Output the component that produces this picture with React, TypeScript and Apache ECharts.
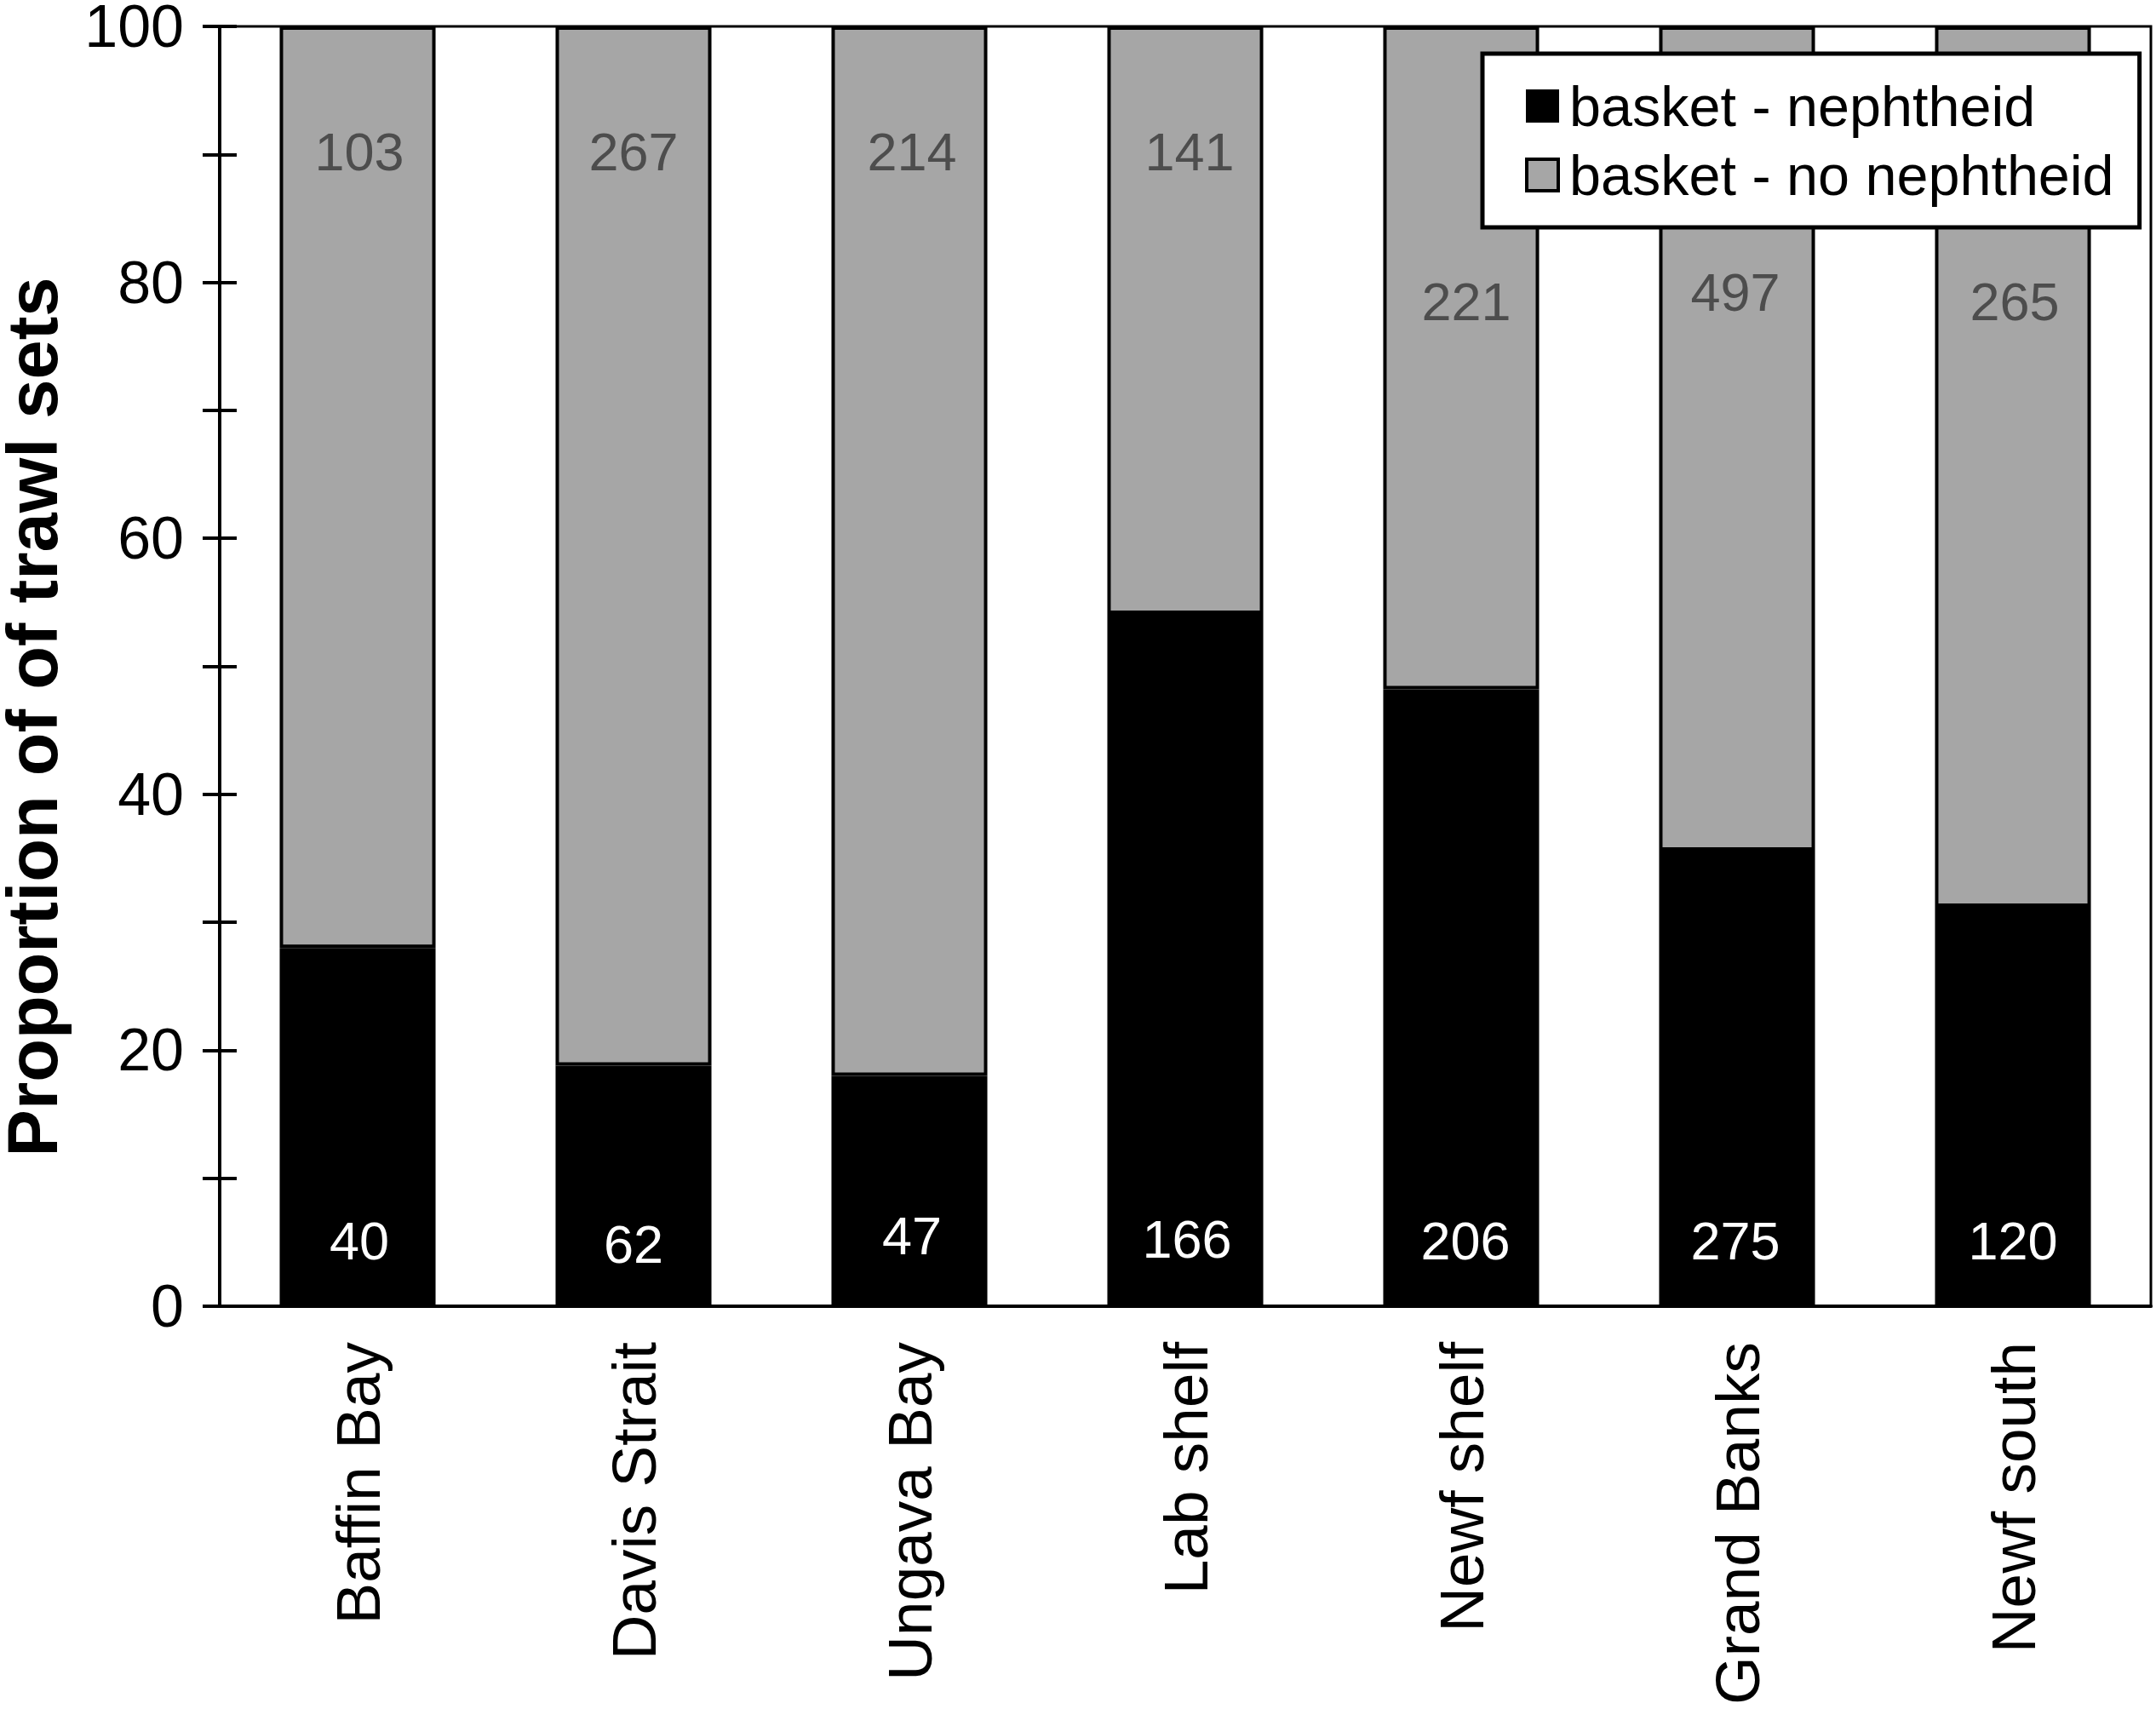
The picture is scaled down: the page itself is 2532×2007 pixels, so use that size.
import React, { useEffect, useRef } from "react";
import * as echarts from "echarts";

const regions = ["Baffin Bay", "Davis Strait", "Ungava Bay", "Lab shelf", "Newf shelf", "Grand Banks", "Newf south"];

// percent of trawl sets
const nephtheid = [28, 18.8, 18, 54.1, 48.2, 35.6, 31.2];
const noNephtheid = [72, 81.2, 82, 45.9, 51.8, 64.4, 68.8];

// counts printed on the bars
const nephtheidCounts = [40, 62, 47, 166, 206, 275, 120];
const noNephtheidCounts = [103, 267, 214, 141, 221, 497, 265];

// the count labels were placed by hand in the original
const blackLabelNudge = [[2, 0], [0, 4], [3, -6], [2, -2], [5, 0], [-2, 0], [0, 0]];
const greyLabelNudge = [[2, 0], [0, 0], [3, 0], [5, 0], [6, 176], [-2, 165], [2, 176]];

const FONT = "Liberation Sans";

const App = () => {
  const chartRef = useRef<HTMLDivElement>(null);

  useEffect(() => {
    if (!chartRef.current) return;
    const chart = echarts.init(chartRef.current, undefined, { renderer: "svg" });

    const valueAxis = { type: "value", min: 0, max: 100, interval: 10 };

    chart.setOption({
      animation: false,
      backgroundColor: "#fff",
      textStyle: { fontFamily: FONT },
      grid: {
        left: 258,
        right: 6,
        top: 31,
        bottom: 473,
        outerBoundsMode: "none",
        show: true,
        borderColor: "#000",
        borderWidth: 3,
        backgroundColor: "transparent",
      },
      legend: {
        data: [
          { name: "basket - nephtheid" },
          { name: "basket - no nephtheid", itemStyle: { borderColor: "#000", borderWidth: 4 } },
        ],
        orient: "vertical",
        left: 1741,
        top: 63,
        padding: [24, 30, 24, 50],
        itemWidth: 37,
        itemHeight: 37,
        itemGap: 6,
        backgroundColor: "#fff",
        borderColor: "#000",
        borderWidth: 5,
        borderRadius: 0,
        icon: "rect",
        textStyle: { fontFamily: FONT, fontSize: 66.5, color: "#000", lineHeight: 75, padding: [0, 0, 0, 8] },
      },
      xAxis: {
        type: "category",
        data: regions,
        axisTick: { show: false },
        axisLine: { lineStyle: { color: "#000", width: 4 } },
        axisLabel: { rotate: 90, margin: 42, fontFamily: FONT, fontSize: 73, color: "#000", interval: 0 },
      },
      yAxis: [
        {
          ...valueAxis,
          splitLine: { show: false },
          axisLine: { show: true, lineStyle: { color: "#000", width: 4 } },
          axisTick: { show: true, length: 20, lineStyle: { color: "#000", width: 4 } },
          axisLabel: {
            margin: 42,
            fontFamily: FONT,
            fontSize: 70,
            lineHeight: 50,
            color: "#000",
            formatter: (v: number) => (v % 20 === 0 ? String(v) : ""),
          },
        },
        {
          ...valueAxis,
          position: "left",
          splitLine: { show: false },
          axisLine: { show: false },
          axisLabel: { show: false },
          axisTick: { show: true, inside: true, length: 20, lineStyle: { color: "#000", width: 4 } },
        },
      ],
      series: [
        {
          name: "basket - nephtheid",
          type: "bar",
          stack: "sets",
          barWidth: "56.5%",
          itemStyle: { color: "#000", borderColor: "#000", borderWidth: 4 },
          data: nephtheid.map((value, i) => ({
            value,
            label: { offset: blackLabelNudge[i] },
          })),
          label: {
            show: true,
            position: "insideBottom",
            distance: 46,
            fontFamily: FONT,
            fontSize: 63,
            color: "#fff",
            formatter: (p: any) => String(nephtheidCounts[p.dataIndex]),
          },
        },
        {
          name: "basket - no nephtheid",
          type: "bar",
          stack: "sets",
          barWidth: "56.5%",
          itemStyle: { color: "#a6a6a6", borderColor: "#000", borderWidth: 4 },
          data: noNephtheid.map((value, i) => ({
            value,
            label: { offset: greyLabelNudge[i] },
          })),
          label: {
            show: true,
            position: "insideTop",
            distance: 115,
            fontFamily: FONT,
            fontSize: 63,
            color: "#4d4d4d",
            formatter: (p: any) => String(noNephtheidCounts[p.dataIndex]),
          },
        },
      ],
      graphic: [
        {
          type: "text",
          x: 38,
          y: 842,
          rotation: Math.PI / 2,
          style: {
            text: "Proportion of of trawl sets",
            fontFamily: FONT,
            fontSize: 83,
            lineHeight: 70,
            fontWeight: "bold",
            fill: "#000",
            align: "center",
            verticalAlign: "middle",
          },
        },
      ],
    });

    return () => chart.dispose();
  }, []);

  return <div ref={chartRef} style={{ position: "absolute", left: 0, top: 0, width: 2532, height: 2007 }} />;
};

export default App;
